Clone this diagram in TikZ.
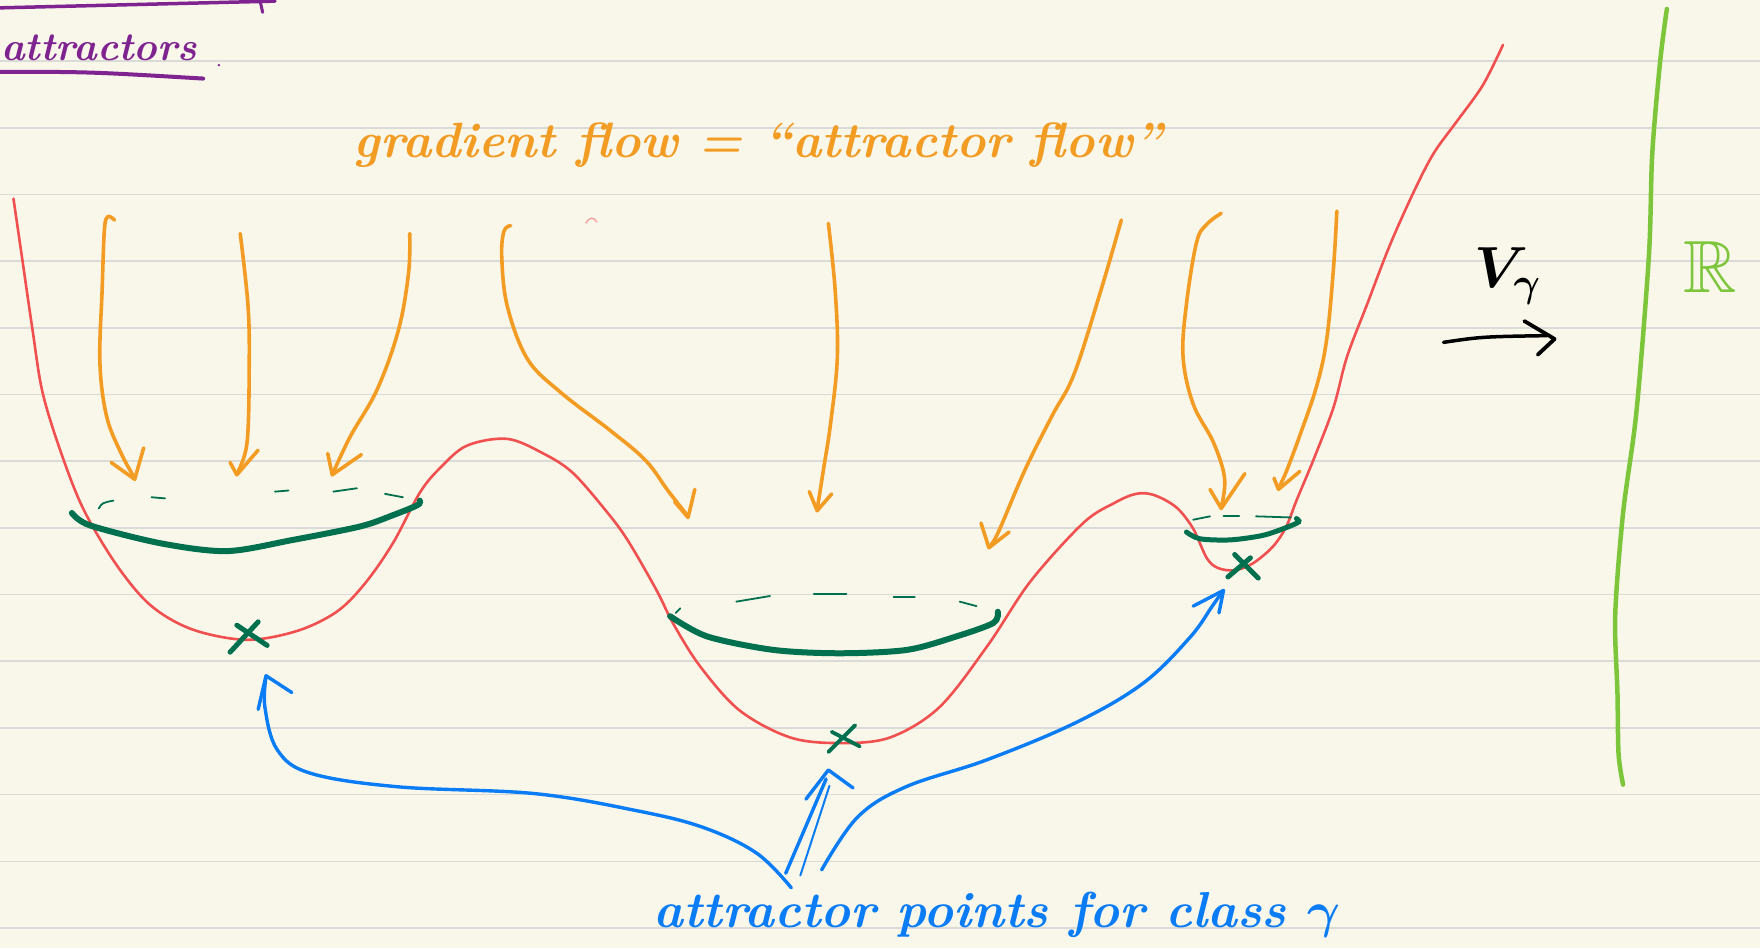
\RequirePackage{fix-cm}
\documentclass[tikz,border=0pt]{standalone}
\usepackage{amsmath,amssymb}
\usepackage{xcolor}
\usetikzlibrary{arrows.meta,calc}

\definecolor{paper}{HTML}{F9F7EA}
\definecolor{rulegray}{HTML}{DADAD6}
\definecolor{potred}{HTML}{F0504F}
\definecolor{floworange}{HTML}{F39C24}
\definecolor{basingreen}{HTML}{00704F}
\definecolor{ptblue}{HTML}{0A7CF5}
\definecolor{ttlpurple}{HTML}{7E2390}
\definecolor{realgreen}{HTML}{7DC63B}

\begin{document}
\begin{tikzpicture}[
  x=1.1224pt, y=-1.1224pt,
  ruled/.style={draw=rulegray, line width=1.6pt},
  potential/.style={draw=potred, line width=2.6pt, line cap=round, line join=round},
  flowarr/.style={draw=floworange, line width=3.6pt, line cap=round, line join=round},
  rim/.style={draw=basingreen, line width=6pt, line cap=round},
  rimdash/.style={draw=basingreen, line width=1.8pt, line cap=round},
  xmark/.style={draw=basingreen, line width=5pt, line cap=round},
  ptarr/.style={draw=ptblue, line width=3.4pt, line cap=round, line join=round},
  hand/.style={inner sep=0pt, anchor=base west},
]
\useasboundingbox (0,0) rectangle (1568,845);
\fill[paper] (0,0) rectangle (1568,845);
\foreach \k in {0,...,13}
  \draw[ruled] (0,{54.35+59.42*\k}) -- (1568,{54.35+59.42*\k});

% title
\draw[ttlpurple, line width=3.5pt, line cap=round] (0,7) -- (245,1);
\draw[ttlpurple, line width=3pt, line cap=round] (232,2) -- (234,11);
\node[hand, ttlpurple, font=\bfseries\itshape\fontsize{40}{42}\selectfont] (title) at (1,54) {attractors};
\draw[ttlpurple, line width=4pt, line cap=round] (0,64) .. controls (80,64) .. (181,70);
\fill[ttlpurple] (195,58) circle (1.2);

\node[hand, floworange, font=\bfseries\itshape\fontsize{49.5}{54}\selectfont] (gflow) at (315,140)
  {gradient flow = ``attractor flow''};

% potential
\draw[potential] plot[smooth, tension=0.55] coordinates {
  (12,177) (20,232) (29,294) (38,350) (55,405) (75,455) (105,505) (135,540)
  (172,561) (220,570) (265,562) (300,545) (325,520) (350,484) (374,439)
  (392,417) (416,397) (452,391) (484,404) (510,421) (539,454) (559,481)
  (585,526) (600,556) (624,594) (659,633) (704,657) (748,662) (793,657)
  (837,630) (880,575) (918,518) (965,466) (993,448) (1012,440) (1028,441)
  (1048,452) (1063,471) (1075,497) (1085,506) (1100,508) (1116,502)
  (1134,487) (1146,469) (1155,446) (1170,410) (1188,363) (1200,318)
  (1218,271) (1238,219) (1259,172) (1277,137) (1298,108) (1321,76) (1339,40)};
\draw[potred!60, line width=1.2pt] (522,199) .. controls (525,193) and (529,193) .. (532,198);

% gradient flow arrows
\draw[flowarr] plot[smooth, tension=0.6] coordinates {(102,196) (96,193) (93,205) (91,258) (89,323) (95,371) (108,404) (120,426)};
\draw[flowarr] (99,412) -- (120,427) -- (128,399);
\draw[flowarr] plot[smooth, tension=0.6] coordinates {(214,208) (221,273) (222,330) (220,395) (211,422)};
\draw[flowarr] (205,412) -- (211,423) -- (230,401);
\draw[flowarr] plot[smooth, tension=0.6] coordinates {(365,208) (364,243) (355,294) (336,347) (312,389) (296,423)};
\draw[flowarr] (292,404) -- (296,423) -- (322,405);

\draw[flowarr] plot[smooth, tension=0.6] coordinates {(455,201) (449,206) (447,229) (452,273) (470,320) (500,350) (543,383) (575,410) (595,437) (613,460)};
\draw[flowarr] (601,447) -- (613,461) -- (619,436);
\draw[flowarr] plot[smooth, tension=0.6] coordinates {(738,199) (744,258) (746,318) (740,377) (734,416) (728,454)};
\draw[flowarr] (721,438) -- (728,455) -- (741,440);
\draw[flowarr] plot[smooth, tension=0.6] coordinates {(999,196) (981,258) (957,333) (937,371) (913,419) (889,475) (881,487)};
\draw[flowarr] (874,466) -- (881,488) -- (899,474);

\draw[flowarr] plot[smooth, tension=0.6] coordinates {(1088,190) (1075,200) (1066,216) (1057,271) (1054,318) (1063,360) (1081,394) (1091,426) (1088,452)};
\draw[flowarr] (1078,436) -- (1088,453) -- (1109,422);
\draw[flowarr] plot[smooth, tension=0.6] coordinates {(1191,188) (1188,239) (1182,302) (1173,344) (1158,388) (1146,420) (1139,435)};
\draw[flowarr] (1135,426) -- (1139,436) -- (1158,420);

% basins
\draw[rimdash] (88,453) .. controls (91,448) .. (101,446);
\draw[rimdash] (135,443) -- (147,444);
\draw[rimdash] (245,438) -- (257,437);
\draw[rimdash] (297,438) -- (318,435);
\draw[rimdash] (343,440) -- (359,443);
\draw[rim] plot[smooth] coordinates {(64,457) (80,468) (143,484) (202,491) (261,481) (321,469) (350,459) (372,450) (374,446)};

\draw[rimdash] (602,546) -- (606,542);
\draw[rimdash] (656,536) -- (686,531);
\draw[rimdash] (725,529) -- (754,529);
\draw[rimdash] (796,532) -- (815,532);
\draw[rimdash] (855,536) -- (870,540);
\draw[rim] plot[smooth] coordinates {(597,549) (630,567) (689,579) (748,582) (808,579) (852,567) (885,555) (889,545)};

\draw[rimdash] (1063,463) -- (1078,460);
\draw[rimdash] (1090,460) -- (1104,460);
\draw[rimdash] (1119,460) -- (1150,461);
\draw[rim, line width=5pt] plot[smooth] coordinates {(1057,474) (1069,480) (1096,481) (1125,477) (1146,470) (1157,465) (1155,462)};

% attractor points
\coordinate (ptL) at (221,567);
\coordinate (ptM) at (750,658);
\coordinate (ptR) at (1107,505);
\draw[xmark] ($(ptL)+(-16,14)$) -- ($(ptL)+(9,-13)$);
\draw[xmark] ($(ptL)+(-10,-10)$) -- ($(ptL)+(17,8)$);
\draw[xmark, line width=3.8pt] ($(ptM)+(-12,12)$) -- ($(ptM)+(12,-12)$);
\draw[xmark, line width=3.8pt] ($(ptM)+(-9,-6)$) -- ($(ptM)+(16,7)$);
\draw[xmark] ($(ptR)+(-13,9)$) -- ($(ptR)+(7,-8)$);
\draw[xmark] ($(ptR)+(-7,-11)$) -- ($(ptR)+(14,10)$);

\node[hand, ptblue, font=\bfseries\itshape\fontsize{50.5}{54}\selectfont] (lblpts) at (582,826)
  {attractor points for class $\boldsymbol{\gamma}$};
\draw[ptarr] plot[smooth, tension=0.6] coordinates {(705,791) (674,760) (626,737) (566,722) (476,707) (355,701) (277,689) (247,668) (236,630) (237,603)};
\draw[ptarr] (230,632) -- (237,602) -- (260,617);
\draw[ptarr] (700,778) -- (736,694);
\draw[ptarr, line width=2pt] (713,780) -- (739,700);
\draw[ptarr] (718,712) -- (738,686) -- (760,702);
\draw[ptarr] plot[smooth, tension=0.6] coordinates {(732,775) (764,728) (807,701) (879,677) (958,644) (1018,609) (1060,568) (1080,540) (1089,527)};
\draw[ptarr] (1063,540) -- (1090,526) -- (1086,546);

% direction and real line
\node[font=\fontsize{58}{60}\selectfont] (vg) at (1343,246) {$\boldsymbol{V_\gamma}$};
\draw[black, line width=3.5pt, line cap=round] (1286,305) .. controls (1320,300) .. (1378,299);
\draw[black, line width=3.8pt, line cap=round, line join=round] (1358,286) -- (1385,302) -- (1370,316);
\draw[realgreen, line width=4.5pt, line cap=round] plot[smooth] coordinates {(1485,8) (1479,55) (1472,137) (1469,228) (1458,366) (1446,457) (1439,548) (1441,617) (1442,672) (1446,699)};
\node[realgreen, font=\fontsize{74}{76}\selectfont] (reals) at (1524,238) {$\mathbb{R}$};
\end{tikzpicture}
\end{document}
